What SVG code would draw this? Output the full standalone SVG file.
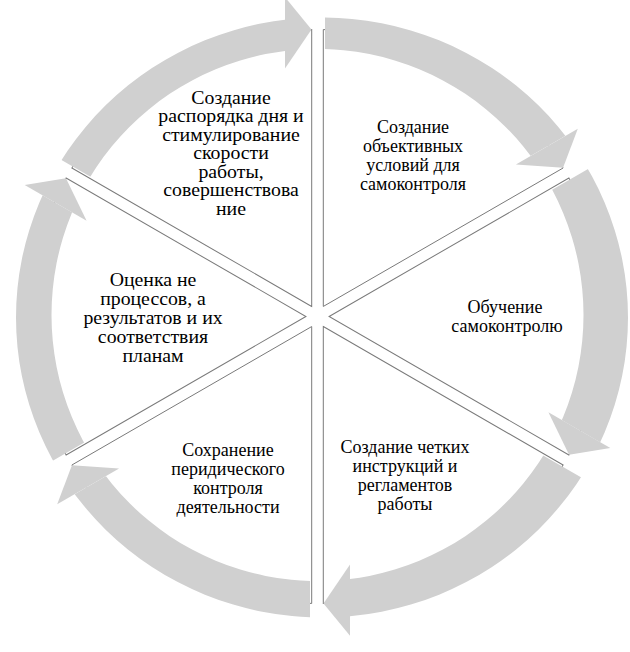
<svg xmlns="http://www.w3.org/2000/svg" width="630" height="652" viewBox="0 0 630 652">
<style>
.sec{fill:#ffffff;stroke:#7a7a7a;stroke-width:1}
.arr{fill:#d0d0d0;stroke:none}
text{font-family:"Liberation Serif","Times New Roman",serif;font-size:18px;fill:#000;text-anchor:middle}
</style>
<defs>
<path id="wedge" d="M5.8,-10.05 L5.8,-286.94 A287,287 0 0 1 245.6,-148.49 Z"/>
<path id="ring" fill-rule="evenodd" d="M16,317.5 A306,300 0 1 1 628,317.5 A306,300 0 1 1 16,317.5 Z M51.5,315 A266,266 0 1 0 583.5,315 A266,266 0 1 0 51.5,315 Z"/>
<polygon id="band" points="-32.5,-27.43 -32.5,-450 -450,-450 -429.25,-256.5"/>
<polygon id="head" points="-6,-287 -32.5,-319.35 -32.5,-247.88"/>
<clipPath id="c0"><use href="#band" transform="translate(317.5,316.5) rotate(0)"/></clipPath>
<clipPath id="c1"><use href="#band" transform="translate(317.5,316.5) rotate(60)"/></clipPath>
<clipPath id="c2"><use href="#band" transform="translate(317.5,316.5) rotate(120)"/></clipPath>
<clipPath id="c3"><use href="#band" transform="translate(317.5,316.5) rotate(180)"/></clipPath>
<clipPath id="c4"><use href="#band" transform="translate(317.5,316.5) rotate(240)"/></clipPath>
<clipPath id="c5"><use href="#band" transform="translate(317.5,316.5) rotate(300)"/></clipPath>
</defs>
<rect width="630" height="652" fill="#fff"/>
<g id="node-1">
<use href="#wedge" class="sec" transform="translate(317.5,316.5) rotate(0)"/>
<text x="413" y="133">Создание</text>
<text x="413" y="152">объективных</text>
<text x="413" y="171">условий для</text>
<text x="413" y="190">самоконтроля</text>
</g>
<g id="node-2">
<use href="#wedge" class="sec" transform="translate(317.5,316.5) rotate(60)"/>
<text x="505" y="313">Обучение</text>
<text x="507" y="332">самоконтролю</text>
</g>
<g id="node-3">
<use href="#wedge" class="sec" transform="translate(317.5,316.5) rotate(120)"/>
<text x="405" y="453">Создание четких</text>
<text x="405" y="472">инструкций и</text>
<text x="405" y="491">регламентов</text>
<text x="405" y="510">работы</text>
</g>
<g id="node-4">
<use href="#wedge" class="sec" transform="translate(317.5,316.5) rotate(180)"/>
<text x="228" y="456">Сохранение</text>
<text x="228" y="475">перидического</text>
<text x="228" y="494">контроля</text>
<text x="228" y="513">деятельности</text>
</g>
<g id="node-5">
<use href="#wedge" class="sec" transform="translate(317.5,316.5) rotate(240)"/>
<g transform="translate(153,0) scale(1.1,1)">
<text x="0" y="286">Оценка не</text>
<text x="0" y="305">процессов, а</text>
<text x="0" y="324">результатов и их</text>
<text x="0" y="343">соответствия</text>
<text x="0" y="362">планам</text>
</g>
</g>
<g id="node-6">
<use href="#wedge" class="sec" transform="translate(317.5,316.5) rotate(300)"/>
<g transform="translate(231,0) scale(1.1,1)">
<text x="0" y="104">Создание</text>
<text x="0" y="122.5">распорядка дня и</text>
<text x="0" y="141">стимулирование</text>
<text x="0" y="159.5">скорости</text>
<text x="0" y="178">работы,</text>
<text x="0" y="196.5">совершенствова</text>
<text x="0" y="215">ние</text>
</g>
</g>
<g id="connectors">
<use href="#ring" class="arr" clip-path="url(#c0)"/>
<use href="#ring" class="arr" clip-path="url(#c1)"/>
<use href="#ring" class="arr" clip-path="url(#c2)"/>
<use href="#ring" class="arr" clip-path="url(#c3)"/>
<use href="#ring" class="arr" clip-path="url(#c4)"/>
<use href="#ring" class="arr" clip-path="url(#c5)"/>
<use href="#head" class="arr" transform="translate(317.5,316.5) rotate(0)"/>
<use href="#head" class="arr" transform="translate(317.5,316.5) rotate(60)"/>
<use href="#head" class="arr" transform="translate(317.5,316.5) rotate(120)"/>
<use href="#head" class="arr" transform="translate(317.5,316.5) rotate(180)"/>
<use href="#head" class="arr" transform="translate(317.5,316.5) rotate(240)"/>
<use href="#head" class="arr" transform="translate(317.5,316.5) rotate(300)"/>
</g>
</svg>
